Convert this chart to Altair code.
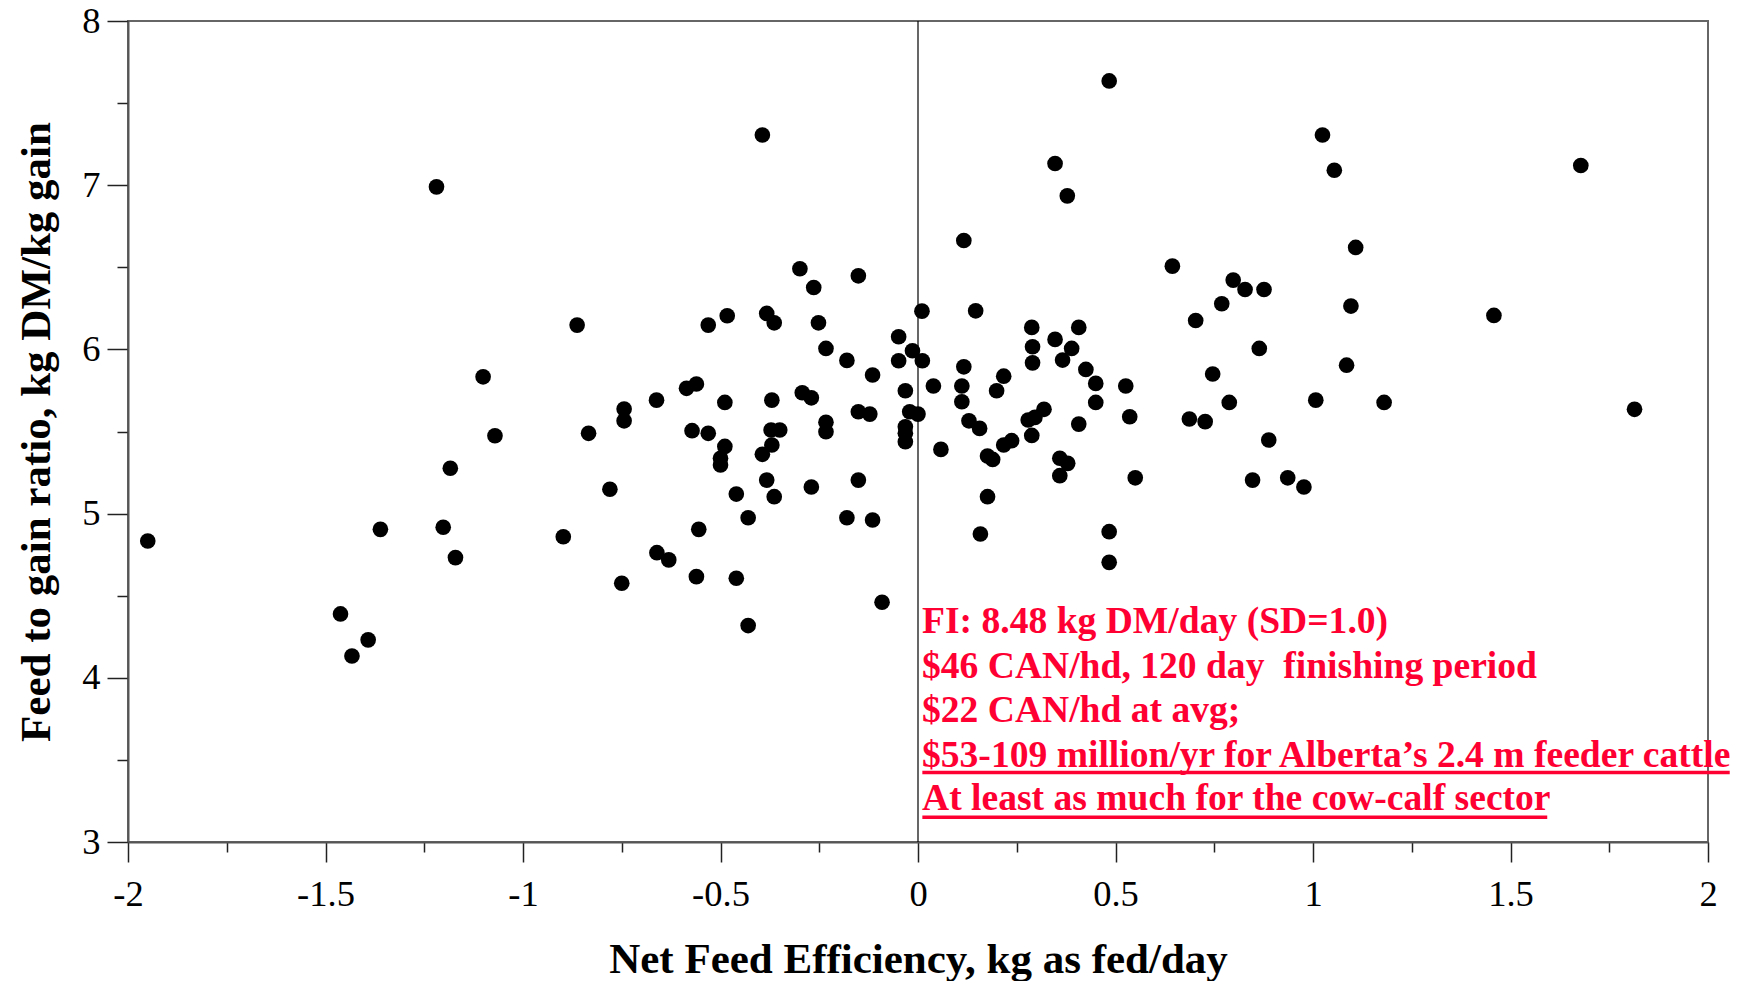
import altair as alt
import pandas as pd

# Net feed efficiency (kg as fed/day) and feed-to-gain ratio (kg DM/kg gain)
nfe = [-1.950, -1.462, -1.433, -1.392, -1.361, -1.219, -1.202, -1.184, -1.171, -1.101,
       -1.071, -0.898, -0.863, -0.834, -0.780, -0.750, -0.744, -0.744, -0.662, -0.661,
       -0.631, -0.586, -0.572, -0.561, -0.561, -0.555, -0.531, -0.531, -0.500, -0.500,
       -0.489, -0.489, -0.483, -0.460, -0.460, -0.430, -0.430, -0.394, -0.394, -0.383,
       -0.383, -0.372, -0.350, -0.370, -0.370, -0.364, -0.364, -0.299, -0.293, -0.270,
       -0.270, -0.264, -0.252, -0.233, -0.233, -0.233, -0.180, -0.180, -0.151, -0.151,
       -0.151, -0.122, -0.115, -0.115, -0.091, -0.049, -0.049, -0.032, -0.032, -0.032,
       -0.032, -0.021, -0.014, 0.000, 0.010, 0.011, 0.039, 0.058, 0.111, 0.111,
       0.116, 0.116, 0.129, 0.146, 0.156, 0.158, 0.176, 0.176, 0.189, 0.199,
       0.217, 0.217, 0.237, 0.279, 0.288, 0.288, 0.290, 0.290, 0.296, 0.319,
       0.347, 0.347, 0.359, 0.359, 0.366, 0.378, 0.379, 0.389, 0.407, 0.407,
       0.425, 0.450, 0.450, 0.484, 0.484, 0.484, 0.526, 0.536, 0.550, 0.644,
       0.687, 0.703, 0.727, 0.746, 0.769, 0.788, 0.798, 0.828, 0.847, 0.864,
       0.876, 0.888, 0.936, 0.977, 1.007, 1.024, 1.054, 1.085, 1.096, 1.108,
       1.180, 1.458, 1.678, 1.814]
fg = [4.833, 4.389, 4.133, 4.231, 4.904, 6.990, 4.917, 5.276, 4.732, 5.833,
      5.474, 4.859, 6.148, 5.489, 5.148, 4.576, 5.637, 5.565, 5.691, 4.762,
      4.718, 5.763, 5.505, 5.789, 4.616, 4.904, 6.148, 5.489, 5.337, 5.296,
      5.677, 5.409, 6.205, 5.119, 4.606, 4.975, 4.318, 7.306, 5.361, 6.219,
      5.204, 5.509, 5.509, 5.691, 5.418, 6.162, 5.103, 6.491, 5.736, 5.705,
      5.162, 6.377, 6.162, 6.006, 5.556, 5.499, 5.933, 4.975, 6.448, 5.620,
      5.204, 5.606, 5.844, 4.961, 4.460, 6.077, 5.931, 5.748, 5.529, 5.489,
      5.438, 5.620, 5.992, 5.606, 6.233, 5.931, 5.777, 5.391, 5.777, 5.681,
      6.663, 5.894, 5.565, 6.235, 5.519, 4.876, 5.351, 5.103, 5.330, 5.748,
      5.837, 5.418, 5.444, 5.570, 6.134, 5.476, 6.016, 5.918, 5.586, 5.635,
      7.132, 6.061, 5.337, 5.231, 5.935, 6.935, 5.306, 6.006, 6.134, 5.545,
      5.878, 5.793, 5.677, 7.635, 4.890, 4.703, 5.777, 5.590, 5.218, 6.507,
      5.576, 6.176, 5.560, 5.850, 6.278, 5.677, 6.422, 6.365, 5.204, 6.006,
      6.365, 5.448, 5.218, 5.162, 5.691, 7.306, 7.091, 5.904, 6.264, 6.621,
      5.677, 6.207, 7.120, 5.635]

x_ticks = [-2, -1.75, -1.5, -1.25, -1, -0.75, -0.5, -0.25, 0, 0.25, 0.5, 0.75,
           1, 1.25, 1.5, 1.75, 2]
y_ticks = [3, 3.5, 4, 4.5, 5, 5.5, 6, 6.5, 7, 7.5, 8]

ann_lines = ["FI: 8.48 kg DM/day (SD=1.0)",
             "$46 CAN/hd, 120 day\u00a0 finishing period",
             "$22 CAN/hd at avg;",
             "$53-109 million/yr for Alberta\u2019s 2.4 m feeder cattle",
             "At least as much for the cow-calf sector"]
ann_y = [4.272, 3.998, 3.733, 3.459, 3.196]
ul_y = [3.423, 3.151]
ul_x2 = [2.055, 1.593]

RED = "#FF0033"
FONT = "Liberation Serif"

pts = pd.DataFrame({"nfe": nfe, "fg": fg})
ann = pd.DataFrame({"text": ann_lines, "y": ann_y, "x": [0] * len(ann_lines)})
ul = pd.DataFrame({"x": [0.011] * 2, "x2": ul_x2, "y": ul_y})
zero = pd.DataFrame({"x": [0], "y": [3], "y2": [8]})

xscale = alt.Scale(domain=[-2, 2], nice=False, zero=False)
yscale = alt.Scale(domain=[3, 8], nice=False, zero=False)

xaxis = alt.Axis(
    values=x_ticks, grid=False,
    tickSize=20, tickWidth=1.5, tickColor="#222",
    tickDash={"condition": {"test": "abs(datum.value % 0.5) > 0.001", "value": [10, 10]}, "value": []},
    domainColor="#555", domainWidth=2,
    labelExpr="abs(datum.value % 0.5) < 0.001 ? '' + datum.value : ''",
    labelFont=FONT, labelFontSize=36.5, labelColor="black", labelPadding=14,
    labelFlush=False, labelOverlap=False, labelBound=False,
    title="Net Feed Efficiency, kg as fed/day",
    titleFont=FONT, titleFontSize=43, titleFontWeight="bold", titleColor="black",
    titleX=790, titleY=130, titleBaseline="alphabetic", titleAlign="center",
)
yaxis = alt.Axis(
    values=y_ticks, grid=False,
    tickSize=21, tickWidth=1.5, tickColor="#222",
    tickDash={"condition": {"test": "abs(datum.value % 1) > 0.001", "value": [11, 10]}, "value": []},
    domainColor="#555", domainWidth=2,
    labelExpr="abs(datum.value % 1) < 0.001 ? '' + datum.value : ''",
    labelFont=FONT, labelFontSize=36.5, labelColor="black", labelPadding=7,
    labelFlush=False, labelOverlap=False, labelBound=False,
    title="Feed to gain ratio, kg DM/kg gain",
    titleFont=FONT, titleFontSize=43, titleFontWeight="bold", titleColor="black",
    titleX=-70, titleY=410.5, titleAngle=270, titleBaseline="bottom", titleAlign="center",
)

zero_line = alt.Chart(zero).mark_rule(color="black", strokeWidth=1.2).encode(
    x=alt.X("x:Q", scale=xscale, axis=xaxis),
    y=alt.Y("y:Q", scale=yscale, axis=yaxis),
    y2="y2:Q",
)

points = alt.Chart(pts).mark_circle(size=245, color="black", opacity=1).encode(
    x=alt.X("nfe:Q", scale=xscale, axis=xaxis),
    y=alt.Y("fg:Q", scale=yscale, axis=yaxis),
)

texts = alt.Chart(ann).mark_text(
    align="left", baseline="alphabetic", dx=4, font=FONT, fontWeight="bold",
    fontSize=37.6, color=RED,
).encode(x="x:Q", y="y:Q", text="text:N")

underlines = alt.Chart(ul).mark_rule(color=RED, strokeWidth=3.5).encode(
    x="x:Q", x2="x2:Q", y="y:Q",
)

chart = alt.layer(zero_line, points, texts, underlines).properties(
    width=1580, height=821,
    padding={"left": 128, "top": 21, "right": 35, "bottom": 139},
    autosize=alt.AutoSizeParams(type="none"),
    background="white",
).configure_view(stroke="#666", strokeWidth=2)

chart.save("out.html", embed_options={"renderer": "svg", "actions": False})
